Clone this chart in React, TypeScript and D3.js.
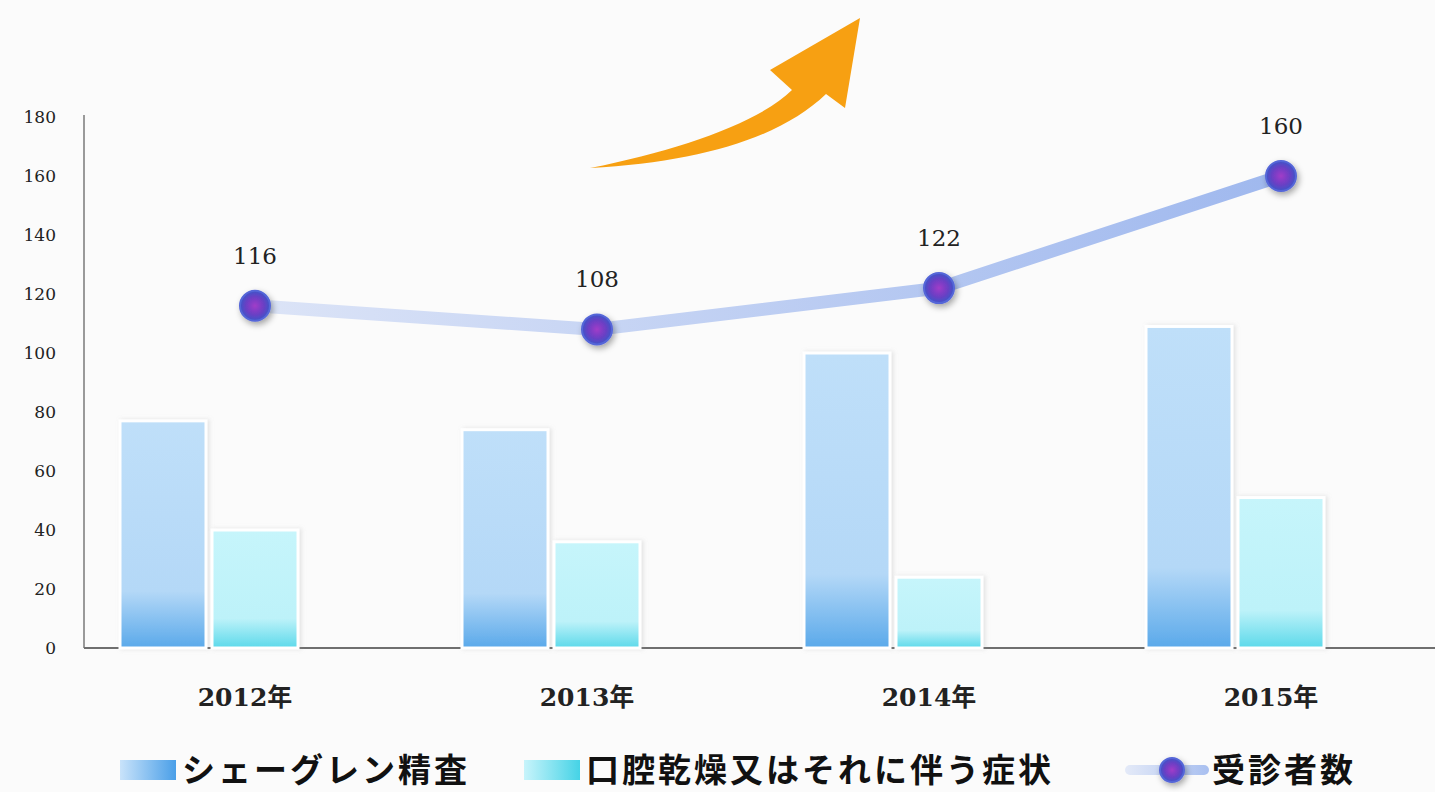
import { useRef, useEffect } from "react";
import * as d3 from "d3";

const years = ["2012年", "2013年", "2014年", "2015年"];
const sjogren = [77, 74, 100, 109];
const dryMouth = [40, 36, 24, 51];
const patients = [116, 108, 122, 160];
const yTicks = [0, 20, 40, 60, 80, 100, 120, 140, 160, 180];
const legendLabels = ["シェーグレン精査", "口腔乾燥又はそれに伴う症状", "受診者数"];

const W = 1435;
const H = 792;

export default function App() {
  const svgRef = useRef<SVGSVGElement>(null);

  useEffect(() => {
    const svg = d3.select(svgRef.current);
    svg.selectAll("*").remove();

    const left = 84;
    const right = 1452;
    const top = 117;
    const bottom = 648;

    const x = d3.scaleBand().domain(years).range([left, right]);
    const y = d3.scaleLinear().domain([0, 180]).range([bottom, top]);

    const defs = svg.append("defs");
    const grad = (id: string, c1: string, c2: string, c3: string) => {
      const g = defs.append("linearGradient").attr("id", id)
        .attr("x1", 0).attr("y1", 0).attr("x2", 0).attr("y2", 1);
      g.append("stop").attr("offset", "0%").attr("stop-color", c1);
      g.append("stop").attr("offset", "75%").attr("stop-color", c2);
      g.append("stop").attr("offset", "100%").attr("stop-color", c3);
    };
    grad("gBlue", "#bfdff9", "#b4d8f7", "#5aa9ea");
    grad("gCyan", "#c6f5fb", "#bdf2f9", "#5cd9ea");
    const lg = defs.append("linearGradient").attr("id", "gLine")
      .attr("x1", 0).attr("x2", 1).attr("y1", 0).attr("y2", 0);
    lg.append("stop").attr("offset", "0%").attr("stop-color", "#dce4f7");
    lg.append("stop").attr("offset", "100%").attr("stop-color", "#9fb8ee");
    const sg = defs.append("linearGradient").attr("id", "gSwLine")
      .attr("gradientUnits", "userSpaceOnUse")
      .attr("x1", 1125).attr("x2", 1210).attr("y1", 0).attr("y2", 0);
    sg.append("stop").attr("offset", "0%").attr("stop-color", "#e4eaf8");
    sg.append("stop").attr("offset", "100%").attr("stop-color", "#a8bff0");
    const rg = defs.append("radialGradient").attr("id", "gDot");
    rg.append("stop").attr("offset", "0%").attr("stop-color", "#a13cc8");
    rg.append("stop").attr("offset", "60%").attr("stop-color", "#6a3fc4");
    rg.append("stop").attr("offset", "100%").attr("stop-color", "#3f55c8");
    const f = defs.append("filter").attr("id", "shadow")
      .attr("x", "-50%").attr("y", "-50%").attr("width", "200%").attr("height", "200%");
    f.append("feDropShadow").attr("dx", 2).attr("dy", 3).attr("stdDeviation", 3)
      .attr("flood-color", "#000").attr("flood-opacity", 0.35);
    const fb = defs.append("filter").attr("id", "barShadow")
      .attr("x", "-20%").attr("y", "-10%").attr("width", "140%").attr("height", "120%");
    fb.append("feDropShadow").attr("dx", 2).attr("dy", 0).attr("stdDeviation", 2)
      .attr("flood-color", "#999").attr("flood-opacity", 0.25);

    svg.append("rect").attr("width", W).attr("height", H).attr("fill", "#fbfbfb");

    // orange arrow
    svg.append("path")
      .attr("d", "M590,168 C680,150 760,122 792,90 L770,70 L860,18 L845,108 L826,94 C780,138 700,162 590,168 Z")
      .attr("fill", "#f7a012");

    // axes
    svg.append("line").attr("x1", left).attr("x2", left).attr("y1", top - 2).attr("y2", bottom)
      .attr("stroke", "#9a9a9a").attr("stroke-width", 2);
    svg.append("line").attr("x1", left).attr("x2", W).attr("y1", bottom).attr("y2", bottom)
      .attr("stroke", "#6f6f6f").attr("stroke-width", 2);

    svg.append("g").selectAll("text").data(yTicks).join("text")
      .attr("x", 56).attr("y", (d) => y(d)).attr("dy", "0.35em")
      .attr("text-anchor", "end")
      .attr("font-family", "'DejaVu Serif', serif").attr("font-size", 17)
      .attr("fill", "#222").text((d) => d);

    // bars
    const bw = 86;
    const gap = 6;
    const g = svg.append("g");
    years.forEach((yr, i) => {
      const x0 = (x(yr) as number) + 36;
      g.append("rect").attr("x", x0).attr("y", y(sjogren[i]))
        .attr("width", bw).attr("height", bottom - y(sjogren[i]))
        .attr("fill", "url(#gBlue)").attr("stroke", "#ffffff").attr("stroke-width", 3)
        .attr("filter", "url(#barShadow)");
      g.append("rect").attr("x", x0 + bw + gap).attr("y", y(dryMouth[i]))
        .attr("width", bw).attr("height", bottom - y(dryMouth[i]))
        .attr("fill", "url(#gCyan)").attr("stroke", "#ffffff").attr("stroke-width", 3)
        .attr("filter", "url(#barShadow)");
    });

    // x labels
    svg.append("g").selectAll("text").data(years).join("text")
      .attr("x", (d) => (x(d) as number) + x.bandwidth() / 2 - 10)
      .attr("y", 706)
      .attr("text-anchor", "middle")
      .attr("font-family", "'DejaVu Serif', 'Noto Sans CJK JP', serif")
      .attr("font-size", 25).attr("font-weight", "bold").attr("fill", "#222")
      .text((d) => d);

    // line
    const cx = (i: number) => (x(years[i]) as number) + x.bandwidth() / 2;
    const line = d3.line<number>().x((_, i) => cx(i)).y((d) => y(d));
    svg.append("path").datum(patients).attr("d", line)
      .attr("fill", "none").attr("stroke", "url(#gLine)").attr("stroke-width", 13)
      .attr("stroke-linejoin", "round").attr("stroke-linecap", "round");
    svg.append("g").selectAll("circle").data(patients).join("circle")
      .attr("cx", (_, i) => cx(i)).attr("cy", (d) => y(d)).attr("r", 15)
      .attr("fill", "url(#gDot)").attr("stroke", "#5566d8").attr("stroke-width", 2)
      .attr("filter", "url(#shadow)");
    svg.append("g").selectAll("text").data(patients).join("text")
      .attr("x", (_, i) => cx(i)).attr("y", (d) => y(d) - 42)
      .attr("text-anchor", "middle")
      .attr("font-family", "'DejaVu Serif', serif").attr("font-size", 23)
      .attr("fill", "#222").text((d) => d);

    // legend
    const ly = 770;
    const lf = "'Noto Sans CJK JP', sans-serif";
    const leg = svg.append("g");
    const sw1 = defs.append("linearGradient").attr("id", "sw1").attr("x1", 0).attr("x2", 1);
    sw1.append("stop").attr("offset", "0%").attr("stop-color", "#c9e3fa");
    sw1.append("stop").attr("offset", "100%").attr("stop-color", "#4a9fe8");
    const sw2 = defs.append("linearGradient").attr("id", "sw2").attr("x1", 0).attr("x2", 1);
    sw2.append("stop").attr("offset", "0%").attr("stop-color", "#c8f4fb");
    sw2.append("stop").attr("offset", "100%").attr("stop-color", "#45d3e6");
    const legText = (tx: number, s: string) =>
      leg.append("text").attr("x", tx).attr("y", ly).attr("dy", "0.36em")
        .attr("font-family", lf).attr("font-size", 33).attr("font-weight", 700)
        .attr("letter-spacing", 3).attr("fill", "#111").text(s);
    leg.append("rect").attr("x", 120).attr("y", ly - 10).attr("width", 56).attr("height", 20).attr("fill", "url(#sw1)");
    legText(182, legendLabels[0]);
    leg.append("rect").attr("x", 524).attr("y", ly - 10).attr("width", 56).attr("height", 20).attr("fill", "url(#sw2)");
    legText(586, legendLabels[1]);
    leg.append("line").attr("x1", 1130).attr("x2", 1204).attr("y1", ly).attr("y2", ly)
      .attr("stroke", "url(#gSwLine)").attr("stroke-width", 10).attr("stroke-linecap", "round");
    leg.append("circle").attr("cx", 1172).attr("cy", ly).attr("r", 12)
      .attr("fill", "url(#gDot)").attr("stroke", "#5566d8").attr("stroke-width", 2)
      .attr("filter", "url(#shadow)");
    legText(1212, legendLabels[2]);
  }, []);

  return (
    <div style={{ position: "absolute", left: 0, top: 0 }}>
      <svg ref={svgRef} width={W} height={H} style={{ display: "block" }} />
    </div>
  );
}
